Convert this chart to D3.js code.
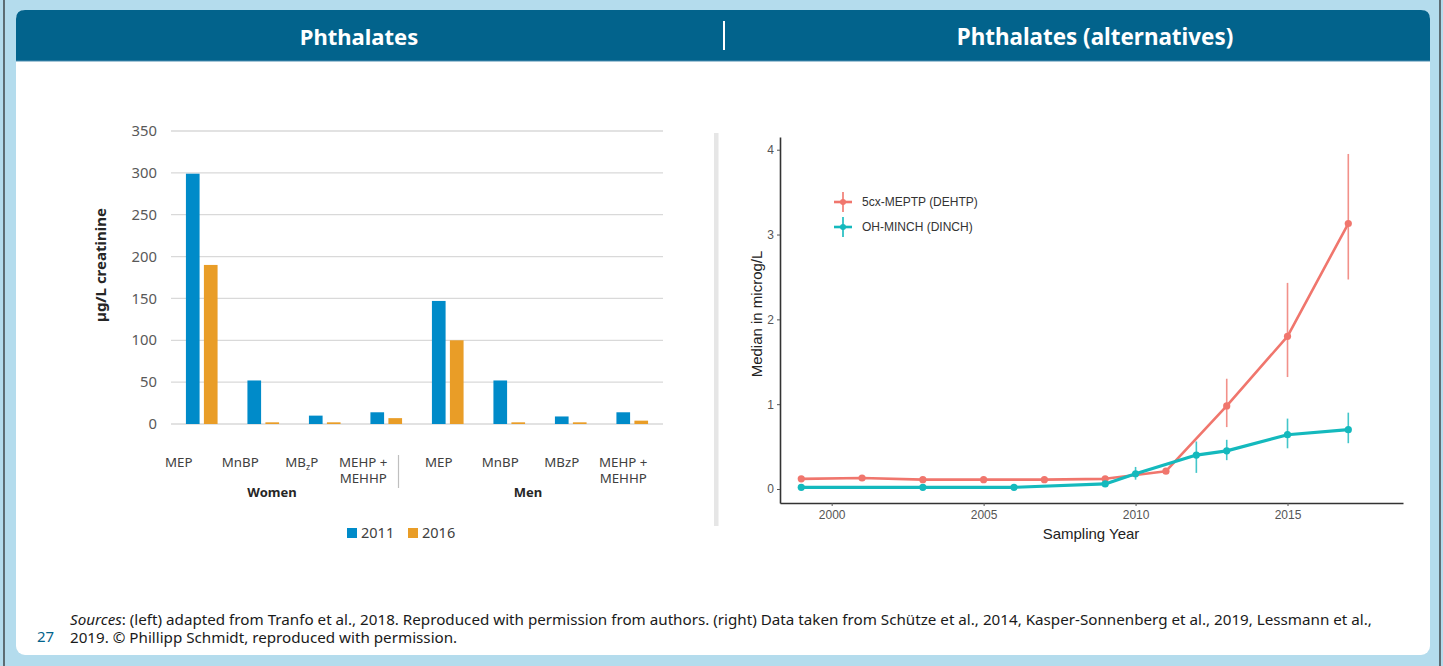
<!DOCTYPE html>
<html>
<head>
<meta charset="utf-8">
<script src="https://cdn.jsdelivr.net/npm/d3@7"></script>
<style>
  body { margin: 0; background: #b4dced; }
  svg { display: block; font-family: "Noto Sans", "Open Sans", sans-serif; }
</style>
</head>
<body>
<div id="chart"></div>
<script>
/**
 * DATA
 * */
// left panel: median urinary phthalate metabolites (µg/L creatinine)
const compounds = ["MEP", "MnBP", "MB_zP", "MEHP + MEHHP"];
const menCompounds = ["MEP", "MnBP", "MBzP", "MEHP + MEHHP"];
const sexes = ["Women", "Men"];
const years = ["2011", "2016"];
const values2011 = [299, 52, 10, 14, 147, 52, 9, 14];
const values2016 = [190, 2, 2, 7, 100, 2, 2, 4];
const barTicks = [0, 50, 100, 150, 200, 250, 300, 350];

// right panel: medians in microg/L by sampling year
const dehtpYears = [1999, 2001, 2003, 2005, 2007, 2009, 2011, 2013, 2015, 2017];
const dehtpMedian = [0.12, 0.13, 0.11, 0.11, 0.11, 0.12, 0.21, 0.98, 1.80, 3.13];
const dehtpLow = [null, null, null, null, null, null, null, 0.73, 1.32, 2.47];
const dehtpHigh = [null, null, null, null, null, null, null, 1.30, 2.43, 3.95];

const dinchYears = [1999, 2003, 2006, 2009, 2010, 2012, 2013, 2015, 2017];
const dinchMedian = [0.02, 0.02, 0.02, 0.06, 0.18, 0.40, 0.45, 0.64, 0.70];
const dinchLow = [null, null, null, null, 0.11, 0.19, 0.34, 0.48, 0.54];
const dinchHigh = [null, null, null, null, 0.26, 0.56, 0.58, 0.83, 0.90];

const seriesNames = ["5cx-MEPTP (DEHTP)", "OH-MINCH (DINCH)"];
const yearTicks = [2000, 2005, 2010, 2015];
const medianTicks = [0, 1, 2, 3, 4];

/**
 * CONSTANTS
 * */
const width = 1443, height = 666;
const blue = "#008bc9", orange = "#e99d27";
const red = "#f0766d", teal = "#14b9bd";

const svg = d3.select("#chart").append("svg")
  .attr("width", width)
  .attr("height", height);

/*** PAGE FRAME ***/
svg.append("rect").attr("width", width).attr("height", height).attr("fill", "#b4dced");
svg.append("line").attr("x1", 4).attr("x2", 4).attr("y1", 0).attr("y2", height)
  .attr("stroke", "#222").attr("stroke-width", 1.2);
svg.append("line").attr("x1", 1440).attr("x2", 1440).attr("y1", 0).attr("y2", height)
  .attr("stroke", "#222").attr("stroke-width", 1.2);

svg.append("rect")
  .attr("x", 16).attr("y", 10).attr("width", 1414).attr("height", 645)
  .attr("rx", 9).attr("fill", "#fff");

// header bar, rounded on top only
const hb = { x: 16, y: 10, w: 1414, h: 51, r: 9 };
svg.append("path")
  .attr("d", `M${hb.x},${hb.y + hb.h} V${hb.y + hb.r} Q${hb.x},${hb.y} ${hb.x + hb.r},${hb.y}
    H${hb.x + hb.w - hb.r} Q${hb.x + hb.w},${hb.y} ${hb.x + hb.w},${hb.y + hb.r} V${hb.y + hb.h} Z`)
  .attr("fill", "#02638c");
svg.append("line").attr("x1", 16).attr("x2", 1430).attr("y1", 61).attr("y2", 61)
  .attr("stroke", "#4c8db0").attr("stroke-width", 1);

svg.append("text").attr("x", 359).attr("y", 45).attr("text-anchor", "middle")
  .attr("fill", "#fff").attr("font-size", 22).attr("font-weight", 700)
  .text("Phthalates");
svg.append("text").attr("x", 1095).attr("y", 45).attr("text-anchor", "middle")
  .attr("fill", "#fff").attr("font-size", 22.4).attr("font-weight", 700)
  .text("Phthalates (alternatives)");
svg.append("line").attr("x1", 724).attr("x2", 724).attr("y1", 21).attr("y2", 50)
  .attr("stroke", "#fff").attr("stroke-width", 2);

// grey divider between the panels
svg.append("rect").attr("x", 714).attr("y", 133).attr("width", 4.5).attr("height", 393)
  .attr("fill", "#e6e6e6");

/*********************/
/*** LEFT: BARS    ***/
/*********************/
const rows = [];
sexes.forEach((s, si) => {
  compounds.forEach((c, ci) => {
    const i = si * compounds.length + ci;
    rows.push({
      sex: s,
      label: si === 0 ? c : menCompounds[ci],
      index: i,
      "2011": values2011[i],
      "2016": values2016[i]
    });
  });
});

const x0 = d3.scaleBand().domain(rows.map(d => d.index)).range([171, 663]);
const x1 = d3.scaleBand().domain(years).range([0, x0.bandwidth()])
  .paddingInner(0.24).paddingOuter(0.83);
const yL = d3.scaleLinear().domain([0, 350]).range([424, 131]);
const colorL = d3.scaleOrdinal().domain(years).range([blue, orange]);

const left = svg.append("g");

left.selectAll("line.grid")
  .data(barTicks)
  .join("line")
  .attr("class", "grid")
  .attr("x1", 171).attr("x2", 663)
  .attr("y1", d => yL(d)).attr("y2", d => yL(d))
  .attr("stroke", "#d9d9d9").attr("stroke-width", 1.3);

left.selectAll("text.ytick")
  .data(barTicks)
  .join("text")
  .attr("class", "ytick")
  .attr("x", 157).attr("y", d => yL(d)).attr("dy", "0.35em")
  .attr("text-anchor", "end").attr("font-size", 14.8).attr("fill", "#595959")
  .text(d => d);

left.append("text")
  .attr("transform", `translate(106,265) rotate(-90)`)
  .attr("text-anchor", "middle").attr("font-size", 15).attr("font-weight", 700)
  .attr("fill", "#262626")
  .text("µg/L creatinine");

left.selectAll("g.group")
  .data(rows)
  .join("g")
  .attr("class", "group")
  .attr("transform", d => `translate(${x0(d.index)},0)`)
  .selectAll("rect")
  .data(d => years.map(y => ({ year: y, value: d[y] })))
  .join("rect")
  .attr("x", d => x1(d.year))
  .attr("width", x1.bandwidth())
  .attr("y", d => yL(d.value))
  .attr("height", d => yL(0) - yL(d.value))
  .attr("fill", d => colorL(d.year));

// category labels, shifted left like the source (excel multi-level axis)
const labelShift = { Women: -23, Men: -9 };
const catLabels = left.selectAll("text.cat")
  .data(rows)
  .join("text")
  .attr("class", "cat")
  .attr("text-anchor", "middle").attr("font-size", 13.3).attr("fill", "#404040")
  .attr("x", d => x0(d.index) + x0.bandwidth() / 2 + labelShift[d.sex])
  .attr("y", 467);

catLabels.each(function (d) {
  const t = d3.select(this);
  const cx = +t.attr("x");
  if (d.label.includes("+")) {
    t.append("tspan").attr("x", cx).text("MEHP +");
    t.append("tspan").attr("x", cx).attr("dy", 16).text("MEHHP");
  } else if (d.label.includes("_")) {
    const [a, b] = d.label.split("_");
    t.append("tspan").text(a);
    t.append("tspan").attr("font-size", 9).attr("dy", 3).text(b[0]);
    t.append("tspan").attr("dy", -3).text(b.slice(1));
  } else {
    t.text(d.label);
  }
});

left.selectAll("text.sex")
  .data(sexes)
  .join("text")
  .attr("class", "sex")
  .attr("x", (d, i) => (x0(i * 4) + x0(i * 4 + 3) + x0.bandwidth()) / 2 + (i === 0 ? -22 : -12))
  .attr("y", 497)
  .attr("text-anchor", "middle").attr("font-size", 13).attr("font-weight", 700)
  .attr("fill", "#262626")
  .text(d => d);

left.append("line")
  .attr("x1", x0(4) - 18.5).attr("x2", x0(4) - 18.5)
  .attr("y1", 455).attr("y2", 488)
  .attr("stroke", "#bfbfbf").attr("stroke-width", 1.2);

const legL = left.selectAll("g.leg")
  .data(years)
  .join("g")
  .attr("class", "leg")
  .attr("transform", (d, i) => `translate(${347 + i * 61},528)`);
legL.append("rect").attr("width", 10).attr("height", 10).attr("fill", d => colorL(d));
legL.append("text").attr("x", 14).attr("y", 5).attr("dy", "0.35em")
  .attr("font-size", 14.5).attr("fill", "#404040").text(d => d);

/*********************/
/*** RIGHT: LINES  ***/
/*********************/
const xR = d3.scaleLinear().domain([1998.3, 2018.8]).range([780, 1403]);
const yR = d3.scaleLinear().domain([-0.165, 4.15]).range([503, 137]);

const right = svg.append("g").attr("font-family", "'Liberation Sans', Arial, sans-serif");

const yAxis = right.append("g")
  .attr("transform", "translate(780,0)")
  .call(d3.axisLeft(yR).tickValues(medianTicks).tickFormat(d3.format("d"))
    .tickSize(3).tickPadding(3).tickSizeOuter(0));
const xAxis = right.append("g")
  .attr("transform", "translate(0,503)")
  .call(d3.axisBottom(xR).tickValues(yearTicks).tickFormat(d3.format("d"))
    .tickSize(3).tickPadding(4).tickSizeOuter(0));
[yAxis, xAxis].forEach(a => {
  a.select(".domain").attr("stroke", "#333").attr("stroke-width", 1.6);
  a.selectAll(".tick line").attr("stroke", "#555");
  a.selectAll(".tick text").attr("font-size", 12).attr("fill", "#555")
    .attr("font-family", "'Liberation Sans', Arial, sans-serif");
});

right.append("text")
  .attr("transform", "translate(762,314) rotate(-90)")
  .attr("text-anchor", "middle").attr("font-size", 15).attr("fill", "#222")
  .text("Median in microg/L");
right.append("text")
  .attr("x", 1091).attr("y", 539)
  .attr("text-anchor", "middle").attr("font-size", 15).attr("fill", "#222")
  .text("Sampling Year");

const series = [
  { name: seriesNames[0], color: red, width: 2.6,
    pts: dehtpYears.map((y, i) => ({ year: y, v: dehtpMedian[i], lo: dehtpLow[i], hi: dehtpHigh[i] })) },
  { name: seriesNames[1], color: teal, width: 3.2,
    pts: dinchYears.map((y, i) => ({ year: y, v: dinchMedian[i], lo: dinchLow[i], hi: dinchHigh[i] })) }
];

const lineGen = d3.line().x(d => xR(d.year)).y(d => yR(d.v));

const sg = right.selectAll("g.series")
  .data(series)
  .join("g")
  .attr("class", "series");

sg.selectAll("line.err")
  .data(s => s.pts.filter(p => p.lo != null).map(p => ({ ...p, color: s.color })))
  .join("line")
  .attr("class", "err")
  .attr("x1", d => xR(d.year)).attr("x2", d => xR(d.year))
  .attr("y1", d => yR(d.lo)).attr("y2", d => yR(d.hi))
  .attr("stroke", d => d.color).attr("stroke-width", 1.6).attr("opacity", 0.8);

sg.append("path")
  .attr("d", s => lineGen(s.pts))
  .attr("fill", "none")
  .attr("stroke", s => s.color)
  .attr("stroke-width", s => s.width)
  .attr("stroke-linejoin", "round");

sg.selectAll("circle")
  .data(s => s.pts.map(p => ({ ...p, color: s.color })))
  .join("circle")
  .attr("cx", d => xR(d.year)).attr("cy", d => yR(d.v))
  .attr("r", 3.6).attr("fill", d => d.color);

const legR = right.selectAll("g.legR")
  .data(series)
  .join("g")
  .attr("class", "legR")
  .attr("transform", (d, i) => `translate(843,${202 + i * 25})`);
legR.append("line").attr("x1", -9).attr("x2", 9)
  .attr("stroke", d => d.color).attr("stroke-width", 2.6);
legR.append("line").attr("y1", -10).attr("y2", 10)
  .attr("stroke", d => d.color).attr("stroke-width", 1.6);
legR.append("circle").attr("r", 3).attr("fill", d => d.color);
legR.append("text").attr("x", 19).attr("dy", "0.35em")
  .attr("font-size", 12).attr("fill", "#333").text(d => d.name);

/*** FOOTER ***/
svg.append("text").attr("x", 37).attr("y", 642)
  .attr("font-size", 15).attr("fill", "#02638c").text("27");
const foot = svg.append("text").attr("x", 70).attr("font-size", 15.2).attr("fill", "#1a1a1a");
const l1 = foot.append("tspan").attr("x", 70).attr("y", 625);
l1.append("tspan").attr("font-style", "italic").text("Sources");
l1.append("tspan").text(": (left) adapted from Tranfo et al., 2018. Reproduced with permission from authors. (right) Data taken from Schütze et al., 2014, Kasper-Sonnenberg et al., 2019, Lessmann et al.,");
foot.append("tspan").attr("x", 70).attr("y", 643)
  .text("2019. © Phillipp Schmidt, reproduced with permission.");
</script>
</body>
</html>
